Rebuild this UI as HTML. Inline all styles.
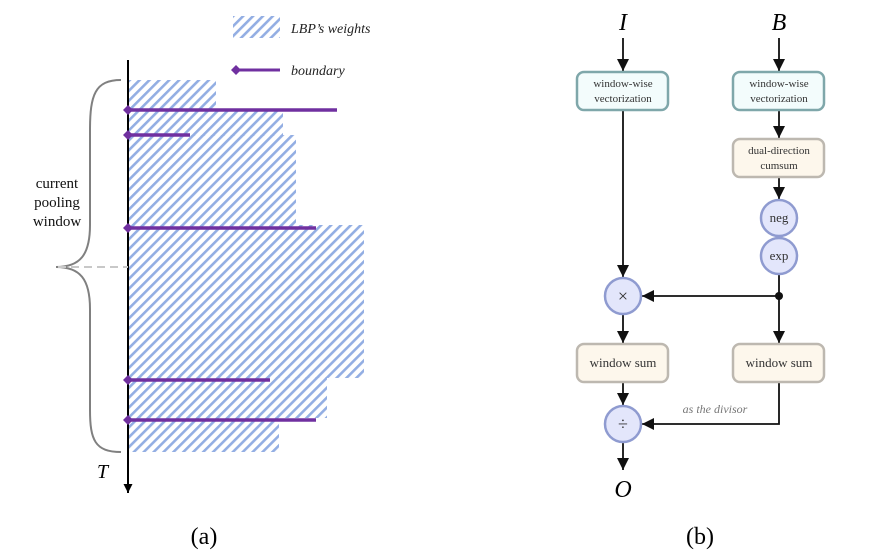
<!DOCTYPE html>
<html><head><meta charset="utf-8"><style>
html,body{margin:0;padding:0;background:#fff;}
svg{display:block;}
</style></head><body>
<svg width="875" height="555" viewBox="0 0 875 555" xmlns="http://www.w3.org/2000/svg">
<defs>
<pattern id="h" patternUnits="userSpaceOnUse" width="7" height="7" patternTransform="rotate(45)">
<rect x="0" y="0" width="2.6" height="7" fill="#93aee3"/>
</pattern>
<marker id="ar" viewBox="0 0 10 10" refX="10" refY="5" markerWidth="9" markerHeight="9" orient="auto" markerUnits="userSpaceOnUse">
<path d="M0,0 L10,5 L0,10 z" fill="#000"/>
</marker>
<marker id="ab" viewBox="0 0 10 10" refX="10" refY="5" markerWidth="12" markerHeight="12" orient="auto" markerUnits="userSpaceOnUse">
<path d="M0,0 L10,5 L0,10 z" fill="#111"/>
</marker>
</defs>
<g fill="url(#h)">
<rect x="129" y="80" width="87" height="31"/>
<rect x="129" y="110" width="154" height="26"/>
<rect x="129" y="135" width="167" height="91"/>
<rect x="129" y="225" width="235" height="153"/>
<rect x="129" y="377" width="198" height="41"/>
<rect x="129" y="417" width="150" height="35"/>
</g>
<rect x="233" y="16" width="47" height="22" fill="url(#h)"/>
<text x="291" y="33" font-family="Liberation Serif, serif" font-style="italic" font-size="14" fill="#222">LBP’s weights</text>
<line x1="238" y1="70" x2="280" y2="70" stroke="#7030a0" stroke-width="3"/>
<path d="M231,70 L236,65 L241,70 L236,75 z" fill="#7030a0"/>
<text x="291" y="75" font-family="Liberation Serif, serif" font-style="italic" font-size="14" fill="#222">boundary</text>
<line x1="128" y1="60" x2="128" y2="493" stroke="#000" stroke-width="2" marker-end="url(#ar)"/>
<text x="97" y="478" font-family="Liberation Serif, serif" font-style="italic" font-size="20">T</text>
<g stroke="#7030a0" stroke-width="3.5">
<line x1="128" y1="110" x2="337" y2="110"/>
<line x1="128" y1="135" x2="190" y2="135"/>
<line x1="128" y1="228" x2="316" y2="228"/>
<line x1="128" y1="380" x2="270" y2="380"/>
<line x1="128" y1="420" x2="316" y2="420"/>
</g>
<g fill="#7030a0">
<path d="M123,110 L128,105 L133,110 L128,115z"/>
<path d="M123,135 L128,130 L133,135 L128,140z"/>
<path d="M123,228 L128,223 L133,228 L128,233z"/>
<path d="M123,380 L128,375 L133,380 L128,385z"/>
<path d="M123,420 L128,415 L133,420 L128,425z"/>
</g>
<path d="M121,80 C95,80 90,95 90,130 L90,225 C90,255 80,267 56,267 C80,267 90,279 90,309 L90,410 C90,440 95,452 121,452" fill="none" stroke="#808080" stroke-width="2"/>
<line x1="58" y1="267" x2="128" y2="267" stroke="#c8c8c8" stroke-width="2" stroke-dasharray="8,5"/>
<g font-family="Liberation Serif, serif" font-size="15" fill="#111" text-anchor="middle">
<text x="57" y="188">current</text>
<text x="57" y="207">pooling</text>
<text x="57" y="226">window</text>
</g>
<text x="204" y="544" font-family="Liberation Serif, serif" font-size="24" text-anchor="middle">(a)</text>
<g font-family="Liberation Serif, serif" font-style="italic" font-size="24" text-anchor="middle">
<text x="623" y="30">I</text>
<text x="779" y="30">B</text>
<text x="623" y="497">O</text>
</g>
<g stroke="#111" stroke-width="1.8" fill="none">
<line x1="623" y1="38" x2="623" y2="71" marker-end="url(#ab)"/>
<line x1="779" y1="38" x2="779" y2="71" marker-end="url(#ab)"/>
<line x1="623" y1="110" x2="623" y2="277" marker-end="url(#ab)"/>
<line x1="779" y1="110" x2="779" y2="138" marker-end="url(#ab)"/>
<line x1="779" y1="177" x2="779" y2="199" marker-end="url(#ab)"/>
<line x1="779" y1="275" x2="779" y2="343" marker-end="url(#ab)"/>
<line x1="779" y1="296" x2="642" y2="296" marker-end="url(#ab)"/>
<line x1="623" y1="314" x2="623" y2="343" marker-end="url(#ab)"/>
<line x1="623" y1="382" x2="623" y2="405" marker-end="url(#ab)"/>
<polyline points="779,382 779,424 642,424" marker-end="url(#ab)"/>
<line x1="623" y1="442" x2="623" y2="470" marker-end="url(#ab)"/>
</g>
<circle cx="779" cy="296" r="4" fill="#111"/>
<g stroke-width="2.5">
<rect x="577" y="72" width="91" height="38" rx="7" fill="#f3fcfc" stroke="#7fa7aa"/>
<rect x="733" y="72" width="91" height="38" rx="7" fill="#f3fcfc" stroke="#7fa7aa"/>
<rect x="733" y="139" width="91" height="38" rx="7" fill="#fdf7ec" stroke="#bdb8b0"/>
<rect x="577" y="344" width="91" height="38" rx="7" fill="#fdf7ec" stroke="#bdb8b0"/>
<rect x="733" y="344" width="91" height="38" rx="7" fill="#fdf7ec" stroke="#bdb8b0"/>
<circle cx="779" cy="218" r="18" fill="#e3e6fb" stroke="#8f9bd0"/>
<circle cx="779" cy="256" r="18" fill="#e3e6fb" stroke="#8f9bd0"/>
<circle cx="623" cy="296" r="18" fill="#e3e6fb" stroke="#8f9bd0"/>
<circle cx="623" cy="424" r="18" fill="#e3e6fb" stroke="#8f9bd0"/>
</g>
<g font-family="Liberation Serif, serif" font-size="11" fill="#333" text-anchor="middle">
<text x="623" y="87">window-wise</text>
<text x="623" y="102">vectorization</text>
<text x="779" y="87">window-wise</text>
<text x="779" y="102">vectorization</text>
<text x="779" y="154">dual-direction</text>
<text x="779" y="169">cumsum</text>
<text x="779" y="222" font-size="13">neg</text>
<text x="779" y="260" font-size="13">exp</text>
<text x="623" y="367" font-size="13">window sum</text>
<text x="779" y="367" font-size="13">window sum</text>
<text x="623" y="302" font-size="18">×</text>
<text x="623" y="430" font-size="18">÷</text>
</g>
<text x="715" y="413" font-family="Liberation Serif, serif" font-style="italic" font-size="12" fill="#777" text-anchor="middle">as the divisor</text>
<text x="700" y="544" font-family="Liberation Serif, serif" font-size="24" text-anchor="middle">(b)</text>
</svg>
</body></html>
